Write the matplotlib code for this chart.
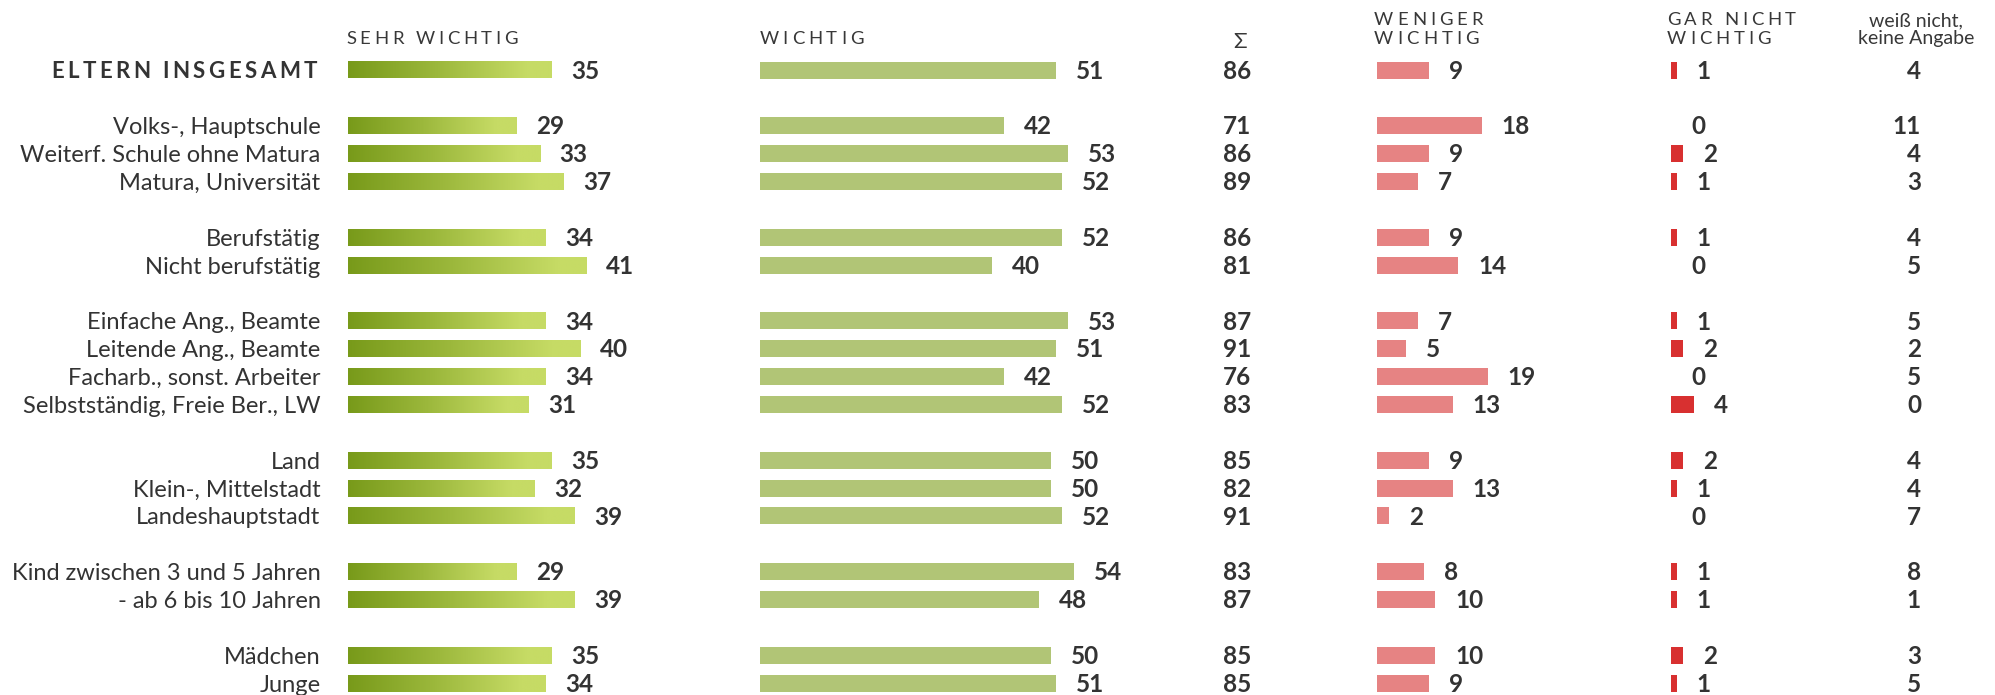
import matplotlib
matplotlib.use("Agg")
import matplotlib.pyplot as plt
import matplotlib.transforms as mtransforms
from matplotlib.font_manager import FontProperties
from matplotlib.colors import LinearSegmentedColormap
import numpy as np

# ---------------------------------------------------------------- data
categories = [
    "ELTERN INSGESAMT",
    "Volks-, Hauptschule", "Weiterf. Schule ohne Matura", "Matura, Universität",
    "Berufstätig", "Nicht berufstätig",
    "Einfache Ang., Beamte", "Leitende Ang., Beamte", "Facharb., sonst. Arbeiter",
    "Selbstständig, Freie Ber., LW",
    "Land", "Klein-, Mittelstadt", "Landeshauptstadt",
    "Kind zwischen 3 und 5 Jahren", "- ab 6 bis 10 Jahren",
    "Mädchen", "Junge",
]
group_sizes = [1, 3, 2, 4, 3, 2, 2]

sehr_wichtig = [35, 29, 33, 37, 34, 41, 34, 40, 34, 31, 35, 32, 39, 29, 39, 35, 34]
wichtig = [51, 42, 53, 52, 52, 40, 53, 51, 42, 52, 50, 50, 52, 54, 48, 50, 51]
summe = [86, 71, 86, 89, 86, 81, 87, 91, 76, 83, 85, 82, 91, 83, 87, 85, 85]
weniger_wichtig = [9, 18, 9, 7, 9, 14, 7, 5, 19, 13, 9, 13, 2, 8, 10, 10, 9]
gar_nicht_wichtig = [1, 0, 2, 1, 1, 0, 1, 2, 0, 4, 2, 1, 0, 1, 1, 2, 1]
weiss_nicht = [4, 11, 4, 3, 4, 5, 5, 2, 5, 0, 4, 4, 7, 8, 1, 3, 5]

# ---------------------------------------------------------------- layout
W, H, DPI = 1995, 695, 100
FAMILY = ["Lato", "DejaVu Sans"]
plt.rcParams["font.family"] = FAMILY
TXT = "#333333"
HDR = "#383838"

ROW0 = 70.0          # pixel y of the first row
STEP = 27.87         # pixel distance between rows
PX_PER_UNIT = 5.82   # bar length scale (pixels per percent)
BAR_H = 17.0 / STEP
CAP = 0.7165         # Lato cap height / em

Y_TOP = -ROW0 / STEP
Y_BOT = (H - ROW0) / STEP

# row slots: one empty row between groups
rows = []
slot = 0
for g in group_sizes:
    rows.extend(range(slot, slot + g))
    slot += g + 1

fig = plt.figure(figsize=(W / DPI, H / DPI), dpi=DPI)
fig.patch.set_facecolor("white")

# pixel axes for headers
hax = fig.add_axes([0, 0, 1, 1])
hax.set_xlim(0, W)
hax.set_ylim(H, 0)
hax.axis("off")

# label axes: x in pixels, y in row units
tax = fig.add_axes([0, 0, 1, 1])
tax.set_xlim(0, W)
tax.set_ylim(Y_BOT, Y_TOP)
tax.axis("off")


def bar_axes(x0, width):
    ax = fig.add_axes([x0 / W, 0, width / W, 1])
    ax.set_xlim(0, width / PX_PER_UNIT)
    ax.set_ylim(Y_BOT, Y_TOP)
    ax.axis("off")
    return ax


def cap_text(ax, x, y, s, size, dx_pt=0.0, **kw):
    """Text whose capital letters are vertically centred on y."""
    tr = mtransforms.offset_copy(ax.transData, fig=fig, x=dx_pt,
                                 y=-CAP * size / 2.0, units="points")
    return ax.text(x, y, s, fontsize=size, va="baseline", transform=tr, **kw)


def spaced(ax, x, y, s, size, weight, width, ha="left", **kw):
    """Letter-spaced text stretched to a given pixel width."""
    fp = FontProperties(family=FAMILY, size=size, weight=weight)
    r = fig.canvas.get_renderer()

    def w(t):
        return r.get_text_width_height_descent(t, fp, ismath=False)[0]

    bar = w("|")
    pos = [w(s[:k] + "|") - bar if k else 0.0 for k in range(len(s))]
    natural = w(s)
    gap = (width - natural) / (len(s) - 1)
    x0 = x if ha == "left" else x - width
    for k, ch in enumerate(s):
        if ch == " ":
            continue
        ax.text(x0 + pos[k] + k * gap, y, ch, fontproperties=fp,
                ha="left", va="baseline", **kw)


VAL_SIZE = 17.5
LAB_SIZE = 17
VAL_OFF = 20 * 0.72   # gap between bar end and value, in points

# ---------------------------------------------------------------- sehr wichtig (gradient bars)
ax1 = bar_axes(347.5, 420)
cmap = LinearSegmentedColormap.from_list("grn", ["#789a1a", "#9cb83c", "#c6db65"])
grad = np.clip(np.linspace(0, 1, 256) / 0.88, 0, 1)[None, :]
for r, v in zip(rows, sehr_wichtig):
    ax1.imshow(grad, extent=[0, v, r + BAR_H / 2, r - BAR_H / 2], cmap=cmap,
               vmin=0, vmax=1, aspect="auto", interpolation="bilinear", zorder=2)
    cap_text(ax1, v, r, str(v), VAL_SIZE, dx_pt=VAL_OFF, color=TXT,
             fontweight="bold", ha="left")
ax1.set_xlim(0, 420 / PX_PER_UNIT)
ax1.set_ylim(Y_BOT, Y_TOP)

# ---------------------------------------------------------------- wichtig
ax2 = bar_axes(759.5, 420)
ax2.barh(rows, wichtig, height=BAR_H, color="#b1c576", linewidth=0)
for r, v in zip(rows, wichtig):
    cap_text(ax2, v, r, str(v), VAL_SIZE, dx_pt=VAL_OFF, color=TXT,
             fontweight="bold", ha="left")

# ---------------------------------------------------------------- sum column
for r, v in zip(rows, summe):
    cap_text(tax, 1251, r, str(v), VAL_SIZE, color=TXT, fontweight="bold", ha="right")

# ---------------------------------------------------------------- weniger wichtig
ax3 = bar_axes(1377, 280)
ax3.barh(rows, weniger_wichtig, height=BAR_H, color="#e68383", linewidth=0)
for r, v in zip(rows, weniger_wichtig):
    cap_text(ax3, v, r, str(v), VAL_SIZE, dx_pt=VAL_OFF, color=TXT,
             fontweight="bold", ha="left")

# ---------------------------------------------------------------- gar nicht wichtig
ax4 = bar_axes(1671, 200)
ax4.barh(rows, gar_nicht_wichtig, height=BAR_H, color="#d83030", linewidth=0)
for r, v in zip(rows, gar_nicht_wichtig):
    cap_text(ax4, v, r, str(v), VAL_SIZE, dx_pt=VAL_OFF, color=TXT,
             fontweight="bold", ha="left")

# ---------------------------------------------------------------- weiß nicht column
for r, v in zip(rows, weiss_nicht):
    cap_text(tax, 1921, r, str(v), VAL_SIZE, color=TXT, fontweight="bold", ha="right")

# ---------------------------------------------------------------- row labels
for r, lab in zip(rows[1:], categories[1:]):
    cap_text(tax, 320.5, r, lab, LAB_SIZE, color=TXT, ha="right")

# total row label, bold and letter-spaced
TOT_SIZE = 16
spaced(hax, 317, ROW0 + rows[0] * STEP + CAP * TOT_SIZE / 0.72 / 2.0, categories[0],
       TOT_SIZE, "bold", 266, ha="right", color=TXT)

# ---------------------------------------------------------------- headers
HS = 13.3
spaced(hax, 346, 44.3, "SEHR WICHTIG", HS, "normal", 172, color=HDR)
spaced(hax, 759.5, 44.3, "WICHTIG", HS, "normal", 104, color=HDR)
spaced(hax, 1374, 25.0, "WENIGER", HS, "normal", 109, color=HDR)
spaced(hax, 1374, 44.5, "WICHTIG", HS, "normal", 105, color=HDR)
spaced(hax, 1667, 25.0, "GAR NICHT", HS, "normal", 129, color=HDR)
spaced(hax, 1667, 44.5, "WICHTIG", HS, "normal", 104, color=HDR)
hax.text(1240, 48.5, "\u03a3", fontsize=16, color=HDR, ha="center", va="baseline")
hax.text(1916, 26, "weiß nicht,", fontsize=14, color=HDR, ha="center", va="baseline")
hax.text(1916, 44.3, "keine Angabe", fontsize=14, color=HDR, ha="center", va="baseline")

fig.savefig("out.png", dpi=DPI, facecolor="white")
